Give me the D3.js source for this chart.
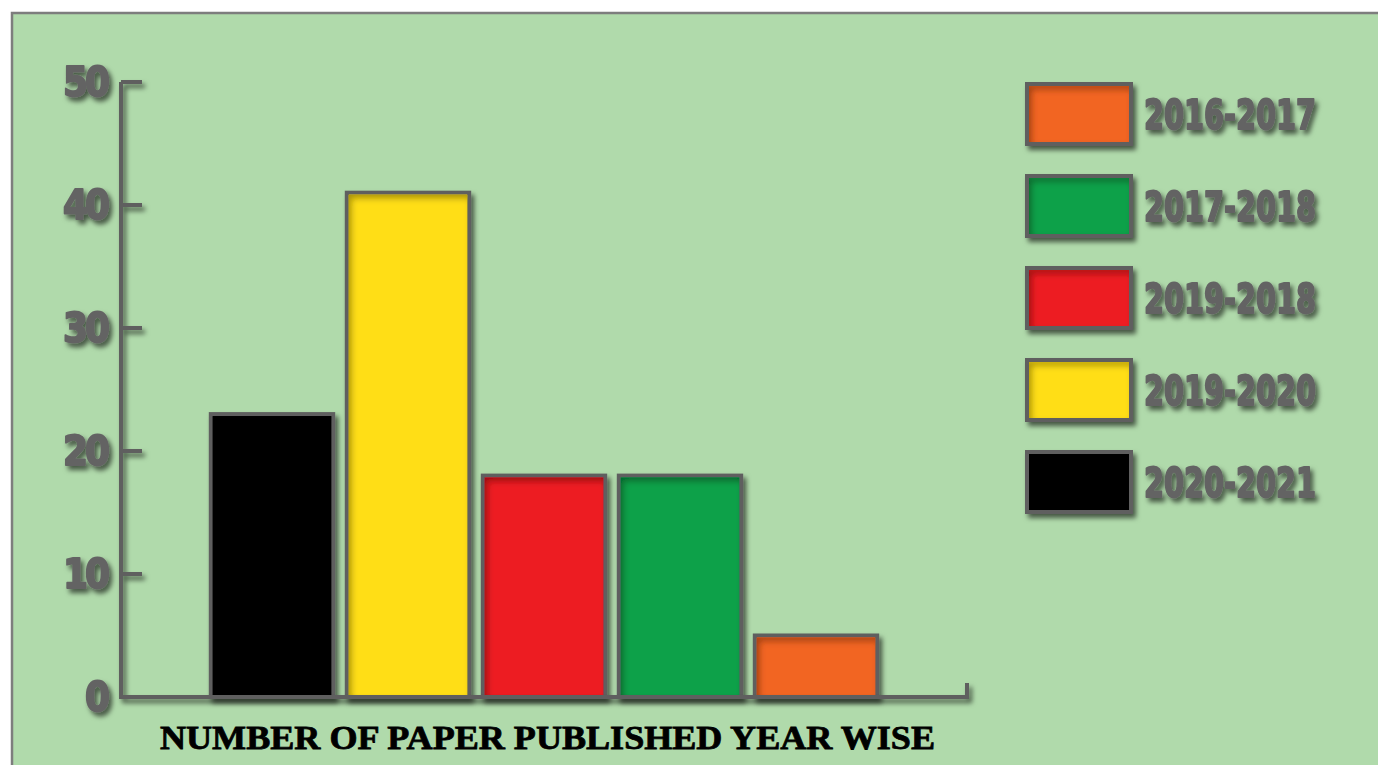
<!DOCTYPE html>
<html>
<head>
<meta charset="utf-8">
<script src="https://cdn.jsdelivr.net/npm/d3@7"></script>
<style>
    body { margin: 0; background: #ffffff; }
    svg { display: block; }
</style>
</head>
<body>
<div id="chart"></div>
<script>
    // data
    var categories = ["2020-2021", "2019-2020", "2019-2018", "2017-2018", "2016-2017"];
    var values = [23, 41, 18, 18, 5];
    var colorList = ["#000000", "#ffde17", "#ed1c24", "#0ca14a", "#f26522"];
    var legendOrder = ["2016-2017", "2017-2018", "2019-2018", "2019-2020", "2020-2021"];
    var yTicks = [0, 10, 20, 30, 40, 50];

    var width = 1378;
    var height = 765;

    var svg = d3.select("#chart")
        .append("svg")
        .attr("width", width)
        .attr("height", height);

    var defs = svg.append("defs");

    // drop shadow for axis, bars, text
    var shadow = defs.append("filter").attr("id", "shadow")
        .attr("x", "-20%").attr("y", "-20%").attr("width", "150%").attr("height", "150%");
    shadow.append("feDropShadow")
        .attr("dx", 3).attr("dy", 4).attr("stdDeviation", 2.5)
        .attr("flood-color", "#000").attr("flood-opacity", 0.6);

    // inner shadow for bar fills
    var inner = defs.append("filter").attr("id", "inner");
    inner.append("feComponentTransfer").attr("in", "SourceAlpha").attr("result", "inv")
        .append("feFuncA").attr("type", "table").attr("tableValues", "1 0");
    inner.append("feGaussianBlur").attr("in", "inv").attr("stdDeviation", 3).attr("result", "blur");
    inner.append("feOffset").attr("dx", 3).attr("dy", 4).attr("result", "off");
    inner.append("feComposite").attr("in", "off").attr("in2", "SourceAlpha").attr("operator", "in").attr("result", "sh");
    inner.append("feComponentTransfer").attr("in", "sh").attr("result", "sh2")
        .append("feFuncA").attr("type", "linear").attr("slope", 0.6);
    var m = inner.append("feMerge");
    m.append("feMergeNode").attr("in", "SourceGraphic");
    m.append("feMergeNode").attr("in", "sh2");

    // panel
    svg.append("rect")
        .attr("x", 12).attr("y", 13)
        .attr("width", width).attr("height", height)
        .attr("fill", "#b0daab")
        .attr("stroke", "#7d7d7d")
        .attr("stroke-width", 2.5);

    var y = d3.scaleLinear().domain([0, 50]).range([697, 82]);
    var x = d3.scaleBand().domain(categories).range([204, 884])
        .paddingInner(0.1).paddingOuter(0.05);
    var colors = d3.scaleOrdinal().domain(categories).range(colorList);

    var axisColor = "#5e5e5e";
    var labelFont = "'DejaVu Sans', sans-serif";
    var labelColor = "#646464";

    // bars
    var bars = svg.append("g");
    bars.selectAll("rect.bar")
        .data(values)
        .enter()
        .append("rect")
        .attr("class", "bar")
        .attr("x", function (d, i) { return x(categories[i]); })
        .attr("y", function (d) { return y(d); })
        .attr("width", x.bandwidth())
        .attr("height", function (d) { return y(0) - y(d); })
        .attr("fill", function (d, i) { return colors(categories[i]); })
        .attr("stroke", axisColor)
        .attr("stroke-width", 4)
        .style("filter", "url(#shadow)");
    bars.selectAll("rect.fill")
        .data(values)
        .enter()
        .append("rect")
        .attr("class", "fill")
        .attr("x", function (d, i) { return x(categories[i]) + 2; })
        .attr("y", function (d) { return y(d) + 2; })
        .attr("width", x.bandwidth() - 4)
        .attr("height", function (d) { return y(0) - y(d) - 2; })
        .attr("fill", function (d, i) { return colors(categories[i]); })
        .style("filter", "url(#inner)");

    // axes
    var axes = svg.append("g").style("filter", "url(#shadow)");
    axes.append("path")
        .attr("d", "M" + 121 + "," + y(50) + "V" + y(0) + "H" + 967 + "V" + (y(0) - 14))
        .attr("fill", "none")
        .attr("stroke", axisColor)
        .attr("stroke-width", 4);
    axes.selectAll("line.tick")
        .data(yTicks)
        .enter()
        .append("line")
        .attr("class", "tick")
        .attr("x1", 121).attr("x2", 142)
        .attr("y1", function (d) { return y(d); })
        .attr("y2", function (d) { return y(d); })
        .attr("stroke", axisColor)
        .attr("stroke-width", 4);

    svg.append("g").style("filter", "url(#shadow)")
        .selectAll("text")
        .data(yTicks)
        .enter()
        .append("text")
        .attr("x", 107)
        .attr("y", function (d) { return y(d) + 14; })
        .attr("text-anchor", "end")
        .style("font-family", labelFont)
        .style("font-stretch", "condensed")
        .style("font-weight", "bold")
        .style("font-size", "40px")
        .style("letter-spacing", "-3px")
        .style("fill", labelColor)
        .style("stroke", labelColor)
        .style("stroke-width", "1.8px")
        .style("stroke-linejoin", "round")
        .text(function (d) { return d; });

    // x title
    svg.append("text")
        .attr("x", 160)
        .attr("y", 749)
        .attr("textLength", 775)
        .attr("lengthAdjust", "spacingAndGlyphs")
        .style("font-family", "'Liberation Serif', 'DejaVu Serif', serif")
        .style("font-weight", "bold")
        .style("font-size", "34px")
        .style("fill", "#000")
        .style("stroke", "#000")
        .style("stroke-width", "0.8px")
        .text("NUMBER OF PAPER PUBLISHED YEAR WISE");

    // legend
    var legend = svg.append("g");
    var rows = legend.selectAll("g")
        .data(legendOrder)
        .enter()
        .append("g")
        .attr("transform", function (d, i) { return "translate(1027," + (84 + i * 92) + ")"; });
    rows.append("rect")
        .attr("width", 104).attr("height", 60)
        .attr("fill", function (d) { return colors(d); })
        .attr("stroke", axisColor)
        .attr("stroke-width", 4)
        .style("filter", "url(#shadow)");
    rows.append("rect")
        .attr("x", 2).attr("y", 2)
        .attr("width", 100).attr("height", 56)
        .attr("fill", function (d) { return colors(d); })
        .style("filter", "url(#inner)");
    rows.append("text")
        .attr("x", 117)
        .attr("y", 45)
        .attr("textLength", 172)
        .attr("lengthAdjust", "spacingAndGlyphs")
        .style("font-family", labelFont)
        .style("font-stretch", "condensed")
        .style("font-weight", "bold")
        .style("font-size", "40px")
        .style("fill", labelColor)
        .style("stroke", labelColor)
        .style("stroke-width", "1.8px")
        .style("stroke-linejoin", "round")
        .style("filter", "url(#shadow)")
        .text(function (d) { return d; });
</script>
</body>
</html>
